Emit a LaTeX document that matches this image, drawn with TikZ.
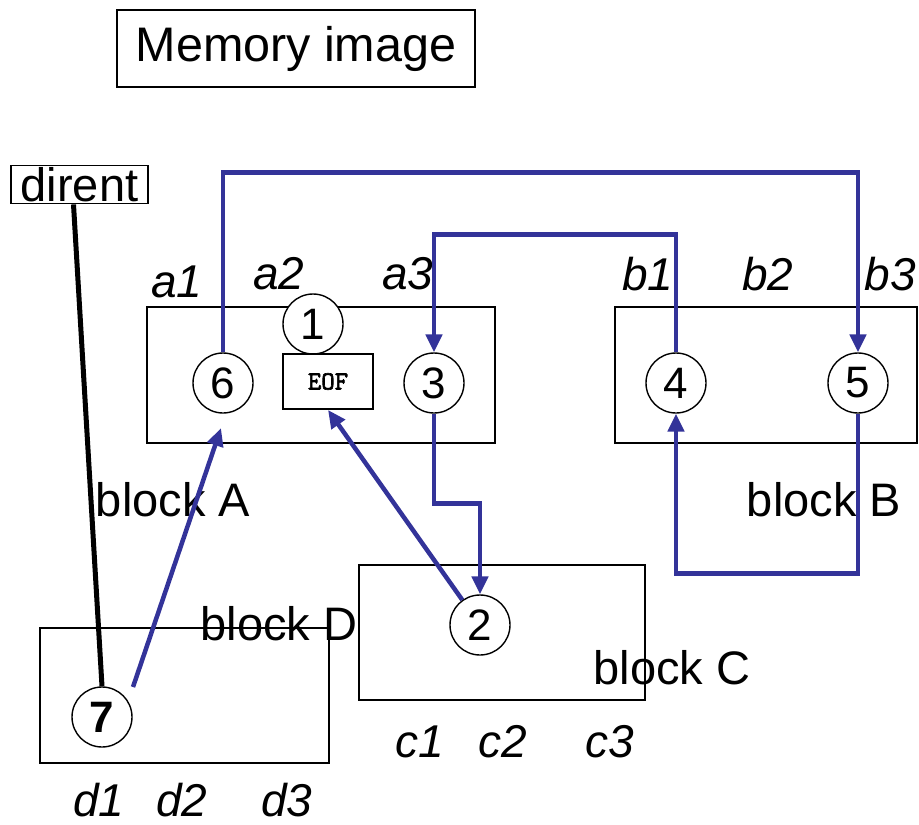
\documentclass[tikz,border=0pt]{standalone}
\usepackage{fontspec}
\setmainfont{Liberation Sans}
\newfontfamily\eoffont[FakeBold=2.5]{Latin Modern Mono}
\usetikzlibrary{arrows.meta}
\definecolor{lnk}{RGB}{51,51,153}
\tikzset{
  blk/.style={draw=black, line width=1.4pt, minimum width=#1, inner sep=0pt, rectangle},
  num/.style={circle, draw=black, line width=1.4pt, fill=white, minimum size=60pt, inner sep=0pt, font=\fontsize{44}{48}\selectfont},
  lbl/.style={inner sep=0pt, font=\fontsize{47}{50}\selectfont},
  ilbl/.style={inner sep=0pt, font=\fontsize{46}{50}\selectfont\itshape},
  lnkarrow/.style={draw=lnk, line width=4.5pt, -{Triangle[length=18pt,width=16pt]}},
}
\begin{document}
\begin{tikzpicture}[x=1pt,y=-1pt]
\useasboundingbox (0,0) rectangle (919,825);
% boxes
\node[blk=358pt, minimum height=77pt, line width=1.8pt, lbl, font=\fontsize{48.5}{52}\selectfont] (mem) at (296,48.5) {Memory image};
\node[blk=137pt, minimum height=38pt, line width=1.8pt, lbl] (dirent) at (79.5,184.5) {dirent};
\node[blk=348pt, minimum height=136pt] (bA) at (321,375) {};
\node[blk=302pt, minimum height=136pt] (bB) at (766,375) {};
\node[blk=286pt, minimum height=135pt] (bC) at (502,632.5) {};
\node[blk=289pt, minimum height=135pt] (bD) at (184.5,695.5) {};
% labels
\node[lbl] (lA) at (173,500) {block A};
\node[lbl] (lB) at (824,500) {block B};
\node[lbl] (lD) at (279,624) {block D};
\node[lbl] (lC) at (672,668) {block C};
\node[ilbl] (a1) at (177,282) {a1};
\node[ilbl] (a2) at (279,274) {a2};
\node[ilbl] (a3) at (408,274) {a3};
\node[ilbl] (b1) at (648,274) {b1};
\node[ilbl] (b2) at (768,274) {b2};
\node[ilbl] (b3) at (890,274) {b3};
\node[ilbl] (c1) at (420,742) {c1};
\node[ilbl] (c2) at (503,742) {c2};
\node[ilbl] (c3) at (610,742) {c3};
\node[ilbl] (d1) at (99,800) {d1};
\node[ilbl] (d2) at (182,800) {d2};
\node[ilbl] (d3) at (287,800) {d3};
% circles
\node[num] (c1n) at (313,324) {1};
\node[num] (c6) at (223,383) {6};
\node[num] (c3) at (434,383) {3};
\node[num] (c4) at (676,383) {4};
\node[num] (c5) at (858,383) {5};
\node[num] (c2) at (480,625) {2};
\node[num, font=\fontsize{44}{48}\selectfont\bfseries] (c7) at (102,717) {7};
\node[draw=black, line width=1.8pt, fill=white, minimum width=90pt, minimum height=55pt, inner sep=0pt, font=\eoffont\fontsize{26}{28}\selectfont] (eof) at (328,381.5) {EOF};
% connectors
\draw[lnkarrow] (c6.north) -- ++(0,-180) -| (c5.north);
\draw[lnkarrow] (c4.north) -- ++(0,-118) -| (c3.north);
\draw[lnkarrow] (c3.south) -- ++(0,90) -| (c2.north);
\draw[lnkarrow] (c5.south) -- ++(0,160) -| (c4.south);
\draw[lnkarrow] (c2) -- (eof.south);
\coordinate (s7) at (133,687);
\coordinate (t6) at (221,428);
\draw[lnkarrow] (s7) -- (t6);
\draw[line width=5pt, black] ([xshift=-6pt]dirent.south) -- (c7.north);
\end{tikzpicture}
\end{document}
